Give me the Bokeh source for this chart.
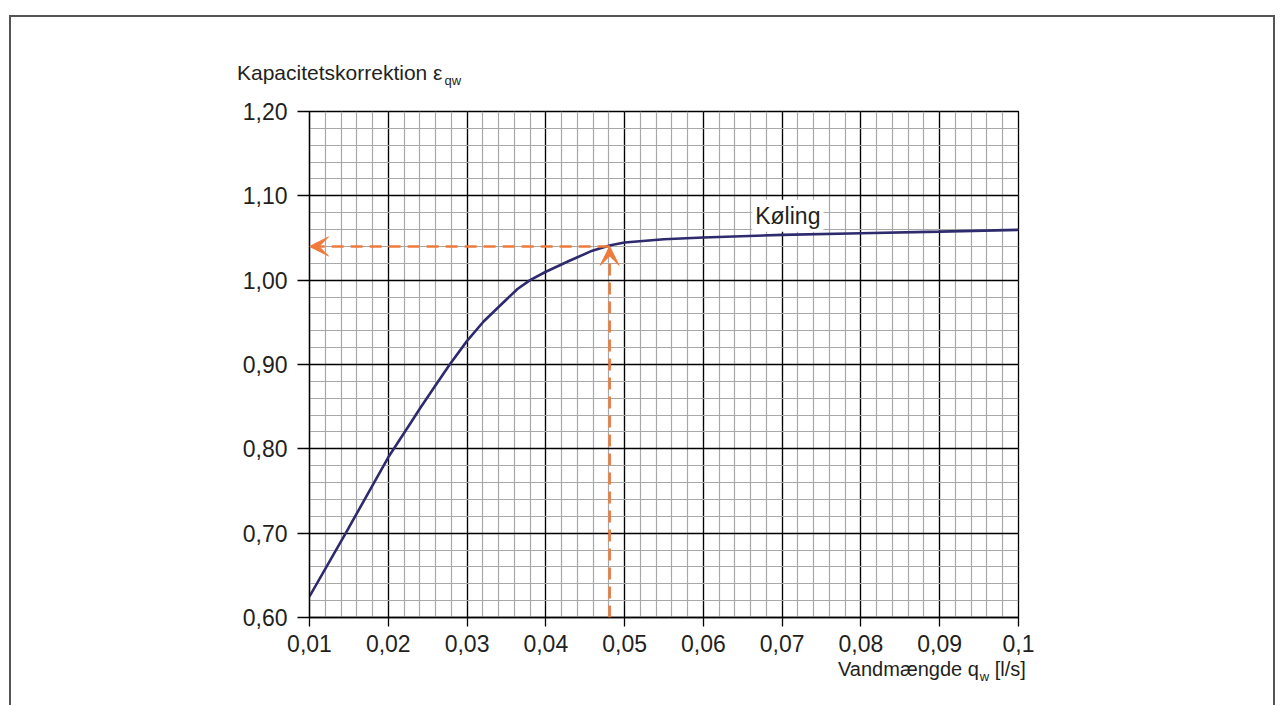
from bokeh.plotting import figure
from bokeh.layouts import column
from bokeh.models import (FixedTicker, CustomJSTickFormatter, Label, Arrow, VeeHead,
                          Range1d, Div)
from bokeh.embed import file_html
from bokeh.resources import INLINE

# ---- data ----
curve_x = [0.010, 0.0146, 0.020, 0.0230, 0.0241, 0.0259, 0.0278, 0.030,
           0.0321, 0.0342, 0.0364, 0.0380, 0.040, 0.043, 0.0459, 0.0482, 0.050,
           0.055, 0.060, 0.070, 0.080, 0.090, 0.100]
curve_y = [0.625, 0.700, 0.790, 0.833, 0.849, 0.874, 0.900, 0.928,
           0.951, 0.970, 0.9895, 1.000, 1.010, 1.023, 1.035, 1.0415, 1.0446,
           1.0486, 1.0506, 1.0537, 1.0557, 1.0576, 1.0597]

x_ticks = [0.01, 0.02, 0.03, 0.04, 0.05, 0.06, 0.07, 0.08, 0.09, 0.1]
x_tick_labels = ["0,01", "0,02", "0,03", "0,04", "0,05", "0,06", "0,07", "0,08", "0,09", "0,1"]
x_minor = [round(0.01 + 0.002 * i, 4) for i in range(46)]

y_ticks = [0.6, 0.7, 0.8, 0.9, 1.0, 1.1, 1.2]
y_tick_labels = ["0,60", "0,70", "0,80", "0,90", "1,00", "1,10", "1,20"]
y_minor = [round(0.6 + 0.02 * i, 4) for i in range(31)]

read_x = 0.0481
read_y = 1.04
curve_label = "Køling"
y_title = "Kapacitetskorrektion ε"
y_title_sub = "qw"
x_title = "Vandmængde q"
x_title_sub = "w"
x_title_unit = " [l/s]"

FONT = "Liberation Sans"
TXT = "#231f20"
ORANGE = "#ee7b3c"
NAVY = "#2e2a6e"

p = figure(width=1262, height=688, output_backend="svg", toolbar_location=None,
           x_range=Range1d(0.01, 0.1), y_range=Range1d(0.6, 1.2),
           min_border_left=298, min_border_right=255, min_border_top=94,
           min_border_bottom=88)
p.background_fill_color = "white"
p.border_fill_color = "white"
p.outline_line_color = "black"
p.outline_line_width = 1.3

def fmt(tv, tl):
    return CustomJSTickFormatter(args=dict(tv=tv, tl=tl), code="""
        for (let i = 0; i < tv.length; i++) {
            if (Math.abs(tv[i] - tick) < 1e-9) { return tl[i]; }
        }
        return '';
    """)

p.xaxis.ticker = FixedTicker(ticks=x_ticks, minor_ticks=x_minor)
p.yaxis.ticker = FixedTicker(ticks=y_ticks, minor_ticks=y_minor)
p.xaxis.formatter = fmt(x_ticks, x_tick_labels)
p.yaxis.formatter = fmt(y_ticks, y_tick_labels)

for ax in (p.xaxis, p.yaxis):
    ax.axis_line_color = "black"
    ax.axis_line_width = 1.3
    ax.major_tick_line_color = "black"
    ax.major_tick_line_width = 1.3
    ax.major_tick_in = 0
    ax.minor_tick_in = 0
    ax.minor_tick_out = 0
    ax.major_label_text_font = FONT
    ax.major_label_text_font_size = "23px"
    ax.major_label_text_color = TXT
p.xaxis.major_tick_out = 9
p.xaxis.major_label_standoff = 8
p.yaxis.major_tick_out = 12
p.yaxis.major_label_standoff = 10

for g in (p.xgrid, p.ygrid):
    g.grid_line_color = "black"
    g.grid_line_width = 1.3
    g.grid_line_alpha = 1.0
    g.minor_grid_line_color = "#a8a8a8"
    g.minor_grid_line_width = 1.2

# curve
p.line(curve_x, curve_y, line_color=NAVY, line_width=2.6)

# reading arrows
p.add_layout(Arrow(x_start=read_x, y_start=read_y, x_end=0.01, y_end=read_y,
                   line_color=ORANGE, line_width=2.6, line_dash="12 7",
                   end=VeeHead(size=19, fill_color=ORANGE, line_color=ORANGE,
                               line_width=1)))
p.add_layout(Arrow(x_start=read_x, y_start=0.6, x_end=read_x, y_end=read_y,
                   line_color=ORANGE, line_width=2.6, line_dash="12 7",
                   end=VeeHead(size=19, fill_color=ORANGE, line_color=ORANGE,
                               line_width=1)))

# curve label with white background
p.add_layout(Label(x=0.0662, y=1.0763, text=curve_label, text_font=FONT,
                   text_font_size="23px", text_color=TXT, text_baseline="alphabetic",
                   background_fill_color="white", padding=3))

# axis titles as HTML text (outside the plotting frame), positioned inside the bordered box
base = {"position": "absolute", "font-family": FONT, "color": TXT, "line-height": "1",
        "white-space": "nowrap", "margin": "0"}
y_div = Div(text=(f"{y_title}<span style='font-size:13px; position:relative; top:5px; "
                  f"margin-left:2px'>{y_title_sub}</span>"),
            width=320, height=30,
            styles=dict(base, **{"left": "226px", "top": "45px", "font-size": "21px"}))
x_div = Div(text=(f"{x_title}<span style='font-size:13px; position:relative; top:5px; "
                  f"margin-left:1px'>{x_title_sub}</span>{x_title_unit}"),
            width=260, height=30,
            styles=dict(base, **{"left": "827px", "top": "642px", "font-size": "20px"}))

page = column(p, y_div, x_div,
              styles={"position": "absolute", "left": "9px", "top": "15px",
                      "border-top": "2px solid #555555",
                      "border-left": "2px solid #555555",
                      "border-right": "2px solid #555555"})

open("out.html", "w").write(file_html(page, INLINE))
